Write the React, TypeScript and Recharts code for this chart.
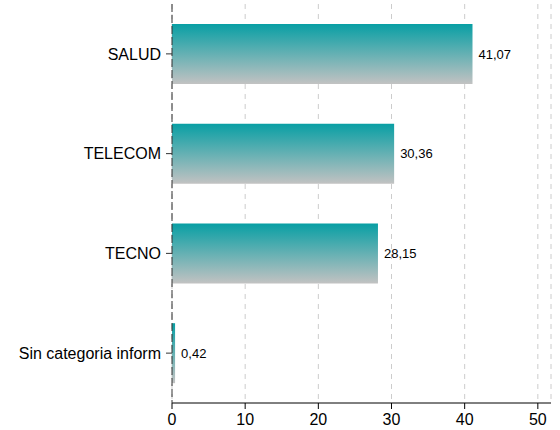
import { BarChart, Bar, XAxis, YAxis, CartesianGrid, LabelList } from "recharts";

const categories = ["SALUD", "TELECOM", "TECNO", "Sin categoria inform"];
const values = [41.07, 30.36, 28.15, 0.42];
const xTicks = [0, 10, 20, 30, 40, 50];

const data = categories.map((name, i) => ({ name, value: values[i] }));

const fontFamily = "'Liberation Sans', Arial, sans-serif";

export default function App() {
  return (
    <div style={{ position: "absolute", left: 0, top: 0, width: 560, height: 430, fontFamily }}>
      <BarChart
        width={560}
        height={430}
        data={data}
        layout="vertical"
        margin={{ top: 4, right: 9, left: 0, bottom: 0 }}
        barCategoryGap="20%"
      >
        <defs>
          <linearGradient id="barGrad" x1="0" y1="0" x2="0" y2="1">
            <stop offset="0%" stopColor="#089fa4" />
            <stop offset="100%" stopColor="#c2c2c2" />
          </linearGradient>
        </defs>
        <CartesianGrid
          horizontal={false}
          stroke="#cccccc"
          strokeDasharray="5 5"
        />
        <XAxis
          type="number"
          domain={[0, 51.8]}
          ticks={xTicks}
          height={27}
          stroke="#000"
          tickSize={6}
          tickMargin={5}
          tick={{ fill: "#000", fontSize: 16 }}
        />
        <YAxis
          type="category"
          dataKey="name"
          width={172}
          stroke="#333"
          strokeDasharray="8 3"
          tickSize={6}
          tickMargin={5}
          tickLine={{ stroke: "#333", strokeDasharray: "none" }}
          tick={{ fill: "#000", fontSize: 16 }}
        />
        <Bar dataKey="value" fill="url(#barGrad)" isAnimationActive={false}>
          <LabelList
            dataKey="value"
            position="right"
            offset={6}
            fill="#000"
            fontSize={13}
            formatter={(v: any) => Number(v).toFixed(2).replace(".", ",")}
          />
        </Bar>
      </BarChart>
    </div>
  );
}
